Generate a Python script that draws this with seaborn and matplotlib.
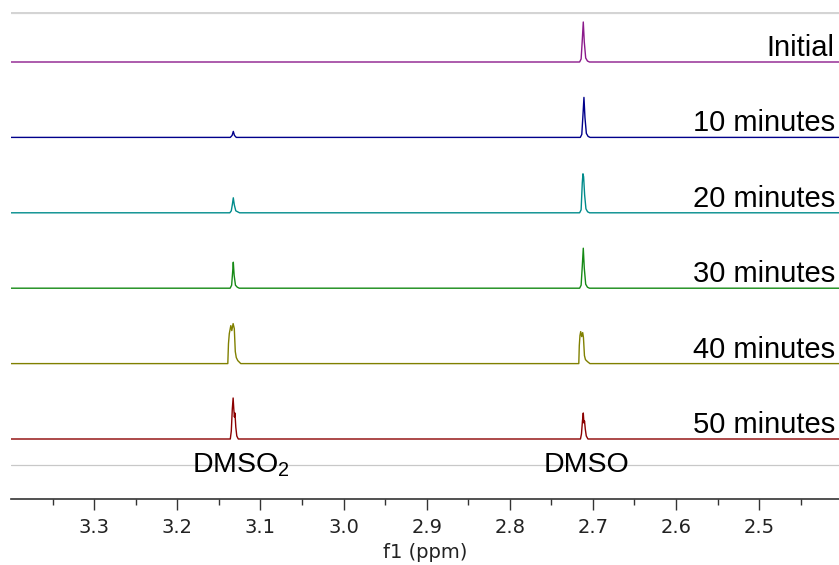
import numpy as np
import pandas as pd
import matplotlib
matplotlib.use("Agg")
import matplotlib.pyplot as plt
import matplotlib.transforms as mtransforms
from matplotlib.ticker import FixedLocator, FormatStrFormatter
import seaborn as sns

# ---- data (chemical shift in ppm, intensity in arbitrary units) ----
labels = ["Initial", "10 minutes", "20 minutes", "30 minutes", "40 minutes", "50 minutes"]
colors = ["#8b1a8b", "#00008b", "#008b8b", "#158a15", "#808000", "#8b0000"]

ppm_initial = [3.400, 2.7160, 2.7142, 2.7128, 2.7116, 2.7104, 2.7087, 2.7066, 2.7042, 2.404]
int_initial = [0, 0, 3, 22, 40, 20, 4, 1, 0, 0]

ppm_10 = [3.400, 3.1362, 3.1340, 3.1326, 3.1312, 3.1290,
          2.7152, 2.7134, 2.7120, 2.7108, 2.7096, 2.7079, 2.7058, 2.7034, 2.404]
int_10 = [0, 0, 2, 6, 2, 0, 0, 3, 22, 40, 20, 4, 1, 0, 0]

ppm_20 = [3.400, 3.1368, 3.1350, 3.1336, 3.1326, 3.1314, 3.1296, 3.1274, 3.1250,
          2.7160, 2.7142, 2.7128, 2.7120, 2.7112, 2.7100, 2.7084, 2.7064, 2.7040, 2.404]
int_20 = [0, 0, 2, 9, 15, 8, 2, 1, 0, 0, 3, 30, 39, 36, 18, 4, 1, 0, 0]

ppm_30 = [3.400, 3.1364, 3.1346, 3.1334, 3.1326, 3.1316, 3.1300, 3.1278, 3.1254,
          2.7160, 2.7142, 2.7128, 2.7116, 2.7104, 2.7087, 2.7066, 2.7042, 2.404]
int_30 = [0, 0, 3, 16, 26, 13, 3, 1, 0, 0, 3, 22, 40, 20, 4, 1, 0, 0]

ppm_40 = [3.400, 3.1392, 3.1384, 3.1374, 3.1356, 3.1344, 3.1328, 3.1314, 3.1302, 3.1290, 3.1272, 3.1236,
          2.7170, 2.7164, 2.7156, 2.7147, 2.7135, 2.7123, 2.7114, 2.7102, 2.7090, 2.7066, 2.7036, 2.404]
int_40 = [0, 0, 20, 30, 38, 33, 40, 35, 12, 6, 3, 0,
          0, 18, 28, 32, 27, 31, 26, 8, 4, 2, 0, 0]

ppm_50 = [3.400, 3.1362, 3.1350, 3.1338, 3.1328, 3.1320, 3.1313, 3.1306, 3.1296, 3.1284, 3.1266,
          2.7150, 2.7138, 2.7126, 2.7116, 2.7108, 2.7101, 2.7092, 2.7080, 2.7060, 2.404]
int_50 = [0, 0, 8, 30, 41, 30, 22, 26, 12, 3, 0,
          0, 5, 18, 26, 16, 18, 10, 3, 0, 0]

xticks = [3.3, 3.2, 3.1, 3.0, 2.9, 2.8, 2.7, 2.6, 2.5]
xminor = [3.35, 3.25, 3.15, 3.05, 2.95, 2.85, 2.75, 2.65, 2.55, 2.45]
peak_labels = ["DMSO$_\\mathregular{2}$", "DMSO"]
peak_label_ppm = [3.1824, 2.7588]

# ---- build long table with vertical stacking ----
ppms = [ppm_initial, ppm_10, ppm_20, ppm_30, ppm_40, ppm_50]
ints = [int_initial, int_10, int_20, int_30, int_40, int_50]
n = len(labels)
step = 75.4
base = 60.0
offsets = [base + step * (n - 1 - i) for i in range(n)]

frames = []
for lab, p, it, off in zip(labels, ppms, ints, offsets):
    frames.append(pd.DataFrame({"ppm": p, "y": np.array(it, float) + off, "spectrum": lab}))
df = pd.concat(frames, ignore_index=True)

sns.set_theme(style="white")
plt.rcParams["font.family"] = ["Liberation Sans", "DejaVu Sans"]
plt.rcParams["mathtext.fontset"] = "custom"
plt.rcParams["mathtext.rm"] = "Liberation Sans"

W, H = 839, 565
fig = plt.figure(figsize=(W / 100, H / 100), dpi=100)
ax = fig.add_axes([11 / W, 1 - 499 / H, 828 / W, 487 / H])

ax.axhline(486, color="#d4d4d4", lw=1.6, zorder=0)
ax.axhline(34, color="#c8c8c8", lw=0.9, zorder=0)

sns.lineplot(data=df, x="ppm", y="y", hue="spectrum", hue_order=labels,
             palette=dict(zip(labels, colors)), sort=False, estimator=None,
             legend=False, lw=1.0, ax=ax)

ax.set_xlim(3.40, 2.404)
ax.set_ylim(0, 487)

blend = mtransforms.blended_transform_factory(ax.transAxes, ax.transData)
for lab, off in zip(labels, offsets):
    ax.text(0.995, off + 6, lab, transform=blend,
            ha="right", va="baseline", fontsize=21, color="black")

for t, xp in zip(peak_labels, peak_label_ppm):
    ax.text(xp, 27, t, ha="left", va="baseline", fontsize=20.5, color="black")

for s in ["left", "right", "top"]:
    ax.spines[s].set_visible(False)
ax.spines["bottom"].set_color("#333333")
ax.spines["bottom"].set_linewidth(1.2)
ax.set_yticks([])
ax.set_ylabel("")
ax.xaxis.set_major_locator(FixedLocator(xticks))
ax.xaxis.set_minor_locator(FixedLocator(xminor))
ax.xaxis.set_major_formatter(FormatStrFormatter("%.1f"))
ax.tick_params(axis="x", which="major", direction="out", length=8, width=1.0,
               color="#333333", labelsize=14, pad=6, bottom=True, labelcolor="#222222")
ax.tick_params(axis="x", which="minor", direction="out", length=4, width=1.0,
               color="#333333", bottom=True)
for lbl in ax.get_xticklabels():
    lbl.set_fontfamily("DejaVu Sans")
ax.set_xlabel("f1 (ppm)", fontsize=14, fontfamily="DejaVu Sans", labelpad=4, color="#222222")
ax.set_facecolor("none")

fig.savefig("out.png", dpi=100)
